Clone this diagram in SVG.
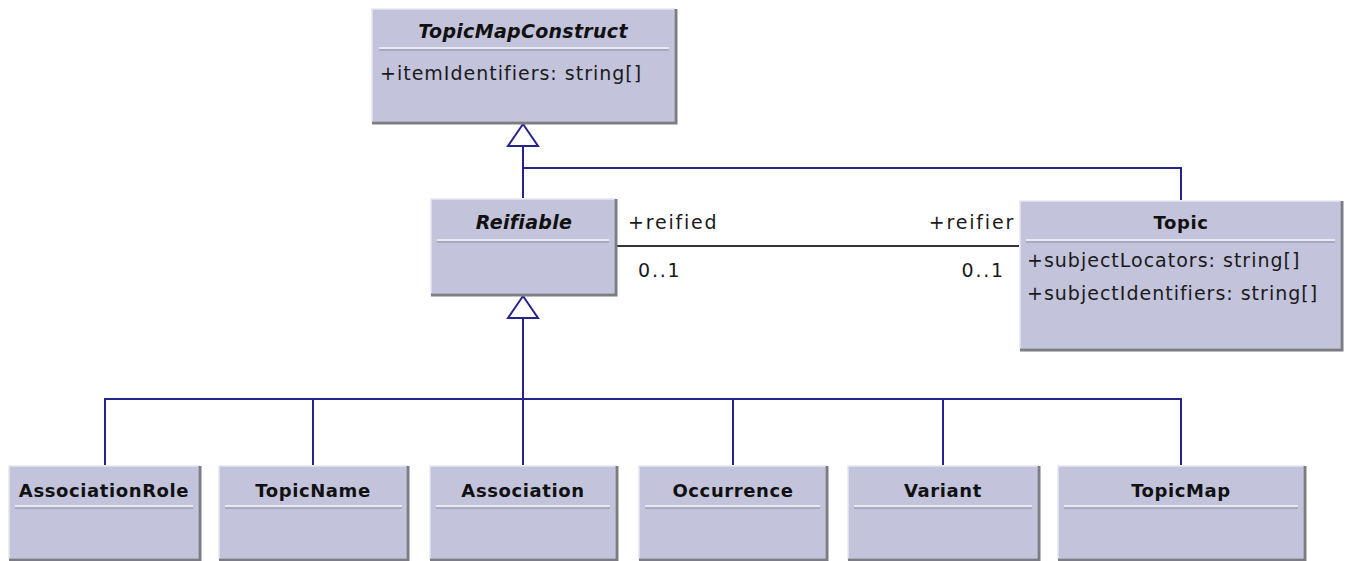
<svg xmlns="http://www.w3.org/2000/svg" width="1345" height="561" viewBox="0 0 1345 561">
  <style>
    .box { fill: #c3c3dc; stroke: #e6e6f2; stroke-width: 1.5; }
    .shade { fill: none; stroke: #7c7c84; stroke-width: 3; }
    .sepL { stroke: #f4f4fa; stroke-width: 1.5; }
    .sepD { stroke: #8e8ea4; stroke-width: 1; }
    .title { font-family: "DejaVu Sans", "Liberation Sans", sans-serif; font-size: 18px; font-weight: bold; fill: #111; text-anchor: middle; letter-spacing: 0.6px; }
    .abs { font-style: italic; font-size: 19px; letter-spacing: 0.3px; }
    .attr { font-family: "DejaVu Sans", "Liberation Sans", sans-serif; font-size: 19px; fill: #1a1a1a; letter-spacing: 1px; }
    .role { font-family: "DejaVu Sans", "Liberation Sans", sans-serif; font-size: 19px; fill: #1a1a1a; letter-spacing: 1.8px; }
    .gen { fill: none; stroke: #24248a; stroke-width: 2; }
    .tri { fill: #ffffff; stroke: #24248a; stroke-width: 2; }
    .assoc { fill: none; stroke: #333; stroke-width: 2; }
  </style>

  <!-- connectors -->
  <g id="connectors">
    <!-- Reifiable / Topic generalise TopicMapConstruct -->
    <polyline class="gen" points="523,198 523,168 1181,168 1181,200"/>
    <line class="gen" x1="523" y1="146" x2="523" y2="168"/>
    <polygon class="tri" points="523,124 508,146 538,146"/>
    <!-- subclasses generalise Reifiable -->
    <line class="gen" x1="523" y1="318" x2="523" y2="465"/>
    <polyline class="gen" points="105,465 105,399 1181,399 1181,465"/>
    <line class="gen" x1="313" y1="399" x2="313" y2="465"/>
    <line class="gen" x1="733" y1="399" x2="733" y2="465"/>
    <line class="gen" x1="943" y1="399" x2="943" y2="465"/>
    <polygon class="tri" points="523,296 508,318 538,318"/>
    <!-- reification association -->
    <line class="assoc" x1="617" y1="246" x2="1019" y2="246"/>
    <text class="role" x="628" y="229">+reified</text>
    <text class="role" x="638" y="277">0..1</text>
    <text class="role" x="1015" y="229" text-anchor="end">+reifier</text>
    <text class="role" x="1005" y="277" text-anchor="end">0..1</text>
  </g>

  <g id="TopicMapConstruct">
    <rect class="box" x="372" y="9" width="303" height="113"/>
    <polyline class="shade" points="676,9 676,123 372,123"/>
    <line class="sepL" x1="379" y1="48" x2="669" y2="48"/>
    <line class="sepD" x1="379" y1="50" x2="669" y2="50"/>
    <text class="title abs" x="523" y="38">TopicMapConstruct</text>
    <text class="attr" x="380" y="80">+itemIdentifiers: string[]</text>
  </g>

  <g id="Reifiable">
    <rect class="box" x="431" y="199" width="184" height="95"/>
    <polyline class="shade" points="616,199 616,295 431,295"/>
    <line class="sepL" x1="437" y1="240" x2="609" y2="240"/>
    <line class="sepD" x1="437" y1="242" x2="609" y2="242"/>
    <text class="title abs" x="524" y="229">Reifiable</text>
  </g>

  <g id="Topic">
    <rect class="box" x="1020" y="201" width="321" height="148"/>
    <polyline class="shade" points="1342,201 1342,350 1020,350"/>
    <line class="sepL" x1="1026" y1="240" x2="1335" y2="240"/>
    <line class="sepD" x1="1026" y1="242" x2="1335" y2="242"/>
    <text class="title" x="1181" y="229">Topic</text>
    <text class="attr" x="1027" y="267">+subjectLocators: string[]</text>
    <text class="attr" x="1027" y="300">+subjectIdentifiers: string[]</text>
  </g>

  <g id="AssociationRole">
    <rect class="box" x="9" y="466" width="190" height="93"/>
    <polyline class="shade" points="200,466 200,560 9,560"/>
    <line class="sepL" x1="15" y1="506" x2="193" y2="506"/>
    <line class="sepD" x1="15" y1="508" x2="193" y2="508"/>
    <text class="title" x="104" y="497">AssociationRole</text>
  </g>

  <g id="TopicName">
    <rect class="box" x="219" y="466" width="188" height="93"/>
    <polyline class="shade" points="408,466 408,560 219,560"/>
    <line class="sepL" x1="225" y1="506" x2="402" y2="506"/>
    <line class="sepD" x1="225" y1="508" x2="402" y2="508"/>
    <text class="title" x="313" y="497">TopicName</text>
  </g>

  <g id="Association">
    <rect class="box" x="430" y="466" width="186" height="93"/>
    <polyline class="shade" points="617,466 617,560 430,560"/>
    <line class="sepL" x1="436" y1="506" x2="610" y2="506"/>
    <line class="sepD" x1="436" y1="508" x2="610" y2="508"/>
    <text class="title" x="523" y="497">Association</text>
  </g>

  <g id="Occurrence">
    <rect class="box" x="639" y="466" width="187" height="93"/>
    <polyline class="shade" points="827,466 827,560 639,560"/>
    <line class="sepL" x1="645" y1="506" x2="820" y2="506"/>
    <line class="sepD" x1="645" y1="508" x2="820" y2="508"/>
    <text class="title" x="733" y="497">Occurrence</text>
  </g>

  <g id="Variant">
    <rect class="box" x="848" y="466" width="190" height="93"/>
    <polyline class="shade" points="1039,466 1039,560 848,560"/>
    <line class="sepL" x1="854" y1="506" x2="1032" y2="506"/>
    <line class="sepD" x1="854" y1="508" x2="1032" y2="508"/>
    <text class="title" x="943" y="497">Variant</text>
  </g>

  <g id="TopicMap">
    <rect class="box" x="1058" y="466" width="246" height="93"/>
    <polyline class="shade" points="1305,466 1305,560 1058,560"/>
    <line class="sepL" x1="1064" y1="506" x2="1298" y2="506"/>
    <line class="sepD" x1="1064" y1="508" x2="1298" y2="508"/>
    <text class="title" x="1181" y="497">TopicMap</text>
  </g>
</svg>
